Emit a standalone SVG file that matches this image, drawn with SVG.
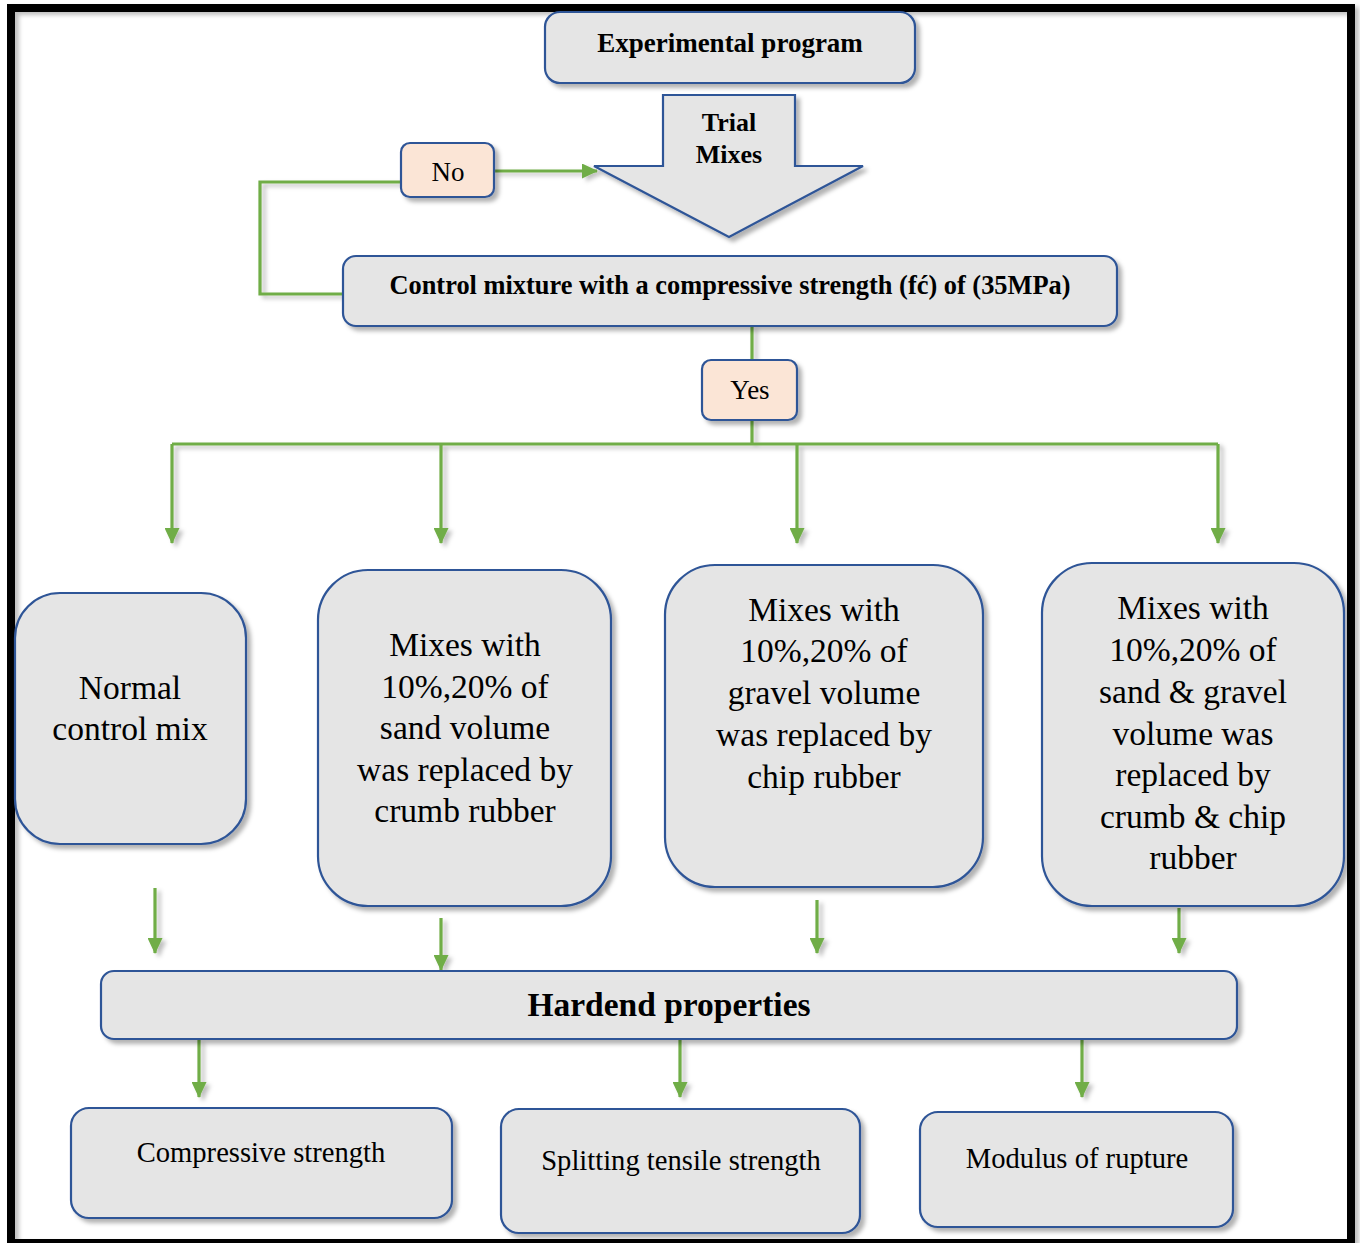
<svg xmlns="http://www.w3.org/2000/svg" width="1360" height="1243" viewBox="0 0 1360 1243">
<style>
.box{fill:#e5e5e5;stroke:#2f5597;stroke-width:2.2;filter:url(#sh)}
.pe{fill:#fbe5d6;stroke:#2f5597;stroke-width:2.2;filter:url(#sh)}
.t{font-family:"Liberation Serif","Times New Roman",serif;fill:#000;text-anchor:middle}
.b{font-weight:bold}
.m{font-size:33.5px}
.s{font-size:28.6px}
.c{fill:none;stroke:#70ad47;stroke-width:3.2}
</style>
<defs>
<filter id="sh" x="-10%" y="-10%" width="130%" height="130%">
<feDropShadow dx="4" dy="4" stdDeviation="2" flood-color="#000" flood-opacity="0.3"/>
</filter>
<filter id="lsh" x="-20%" y="-20%" width="140%" height="140%">
<feDropShadow dx="4" dy="3" stdDeviation="2" flood-color="#000" flood-opacity="0.25"/>
</filter>
<marker id="ah" viewBox="0 0 16 15" refX="15" refY="7.5" markerWidth="16" markerHeight="15" orient="auto" markerUnits="userSpaceOnUse">
<path d="M0,0 L16,7.5 L0,15 z" fill="#70ad47"/>
</marker>
</defs>
<rect width="1360" height="1243" fill="#fff"/>
<rect x="11" y="8" width="1340" height="1235" fill="none" stroke="#000" stroke-width="8" filter="url(#lsh)"/>

<g id="connectors" filter="url(#lsh)">
<path class="c" d="M494,171 H597" marker-end="url(#ah)"/>
<path class="c" d="M343,294 H260 V182 H401"/>
<path class="c" d="M752,326 V360"/>
<path class="c" d="M752,420 V444"/>
<path class="c" d="M172,444 H1218"/>
<path class="c" d="M172,444 V543" marker-end="url(#ah)"/>
<path class="c" d="M441,444 V543" marker-end="url(#ah)"/>
<path class="c" d="M797,444 V543" marker-end="url(#ah)"/>
<path class="c" d="M1218,444 V543" marker-end="url(#ah)"/>
<path class="c" d="M155,888 V953" marker-end="url(#ah)"/>
<path class="c" d="M441,918 V970" marker-end="url(#ah)"/>
<path class="c" d="M817,900 V953" marker-end="url(#ah)"/>
<path class="c" d="M1179,908 V953" marker-end="url(#ah)"/>
<path class="c" d="M199,1040 V1097" marker-end="url(#ah)"/>
<path class="c" d="M680,1040 V1097" marker-end="url(#ah)"/>
<path class="c" d="M1082,1040 V1097" marker-end="url(#ah)"/>
</g>

<g id="experimental">
<rect class="box" x="545" y="12" width="370" height="71" rx="15"/>
<text class="t b" x="730" y="52" font-size="27">Experimental program</text>
</g>
<g id="trial">
<polygon class="box" points="663,95 795,95 795,166 863,166 729,237 594,166 663,166"/>
<text class="t b" x="729" y="131" font-size="26">Trial</text>
<text class="t b" x="729" y="163" font-size="26">Mixes</text>
</g>
<g id="no">
<rect class="pe" x="401" y="143" width="93" height="54" rx="9"/>
<text class="t" x="448" y="181" font-size="27">No</text>
</g>
<g id="control">
<rect class="box" x="343" y="256" width="774" height="70" rx="13"/>
<text class="t b" x="730" y="294" font-size="26.4">Control mixture with a compressive strength (fć) of (35MPa)</text>
</g>
<g id="yes">
<rect class="pe" x="702" y="360" width="95" height="60" rx="9"/>
<text class="t" x="750" y="399" font-size="27">Yes</text>
</g>
<g id="normal">
<rect class="box" x="15" y="593" width="231" height="251" rx="45"/>
<text class="t m" x="130" y="699">Normal</text>
<text class="t m" x="130" y="740">control mix</text>
</g>
<g id="sand">
<rect class="box" x="318" y="570" width="293" height="336" rx="50"/>
<text class="t m" x="465" y="656">Mixes with</text>
<text class="t m" x="465" y="698">10%,20% of</text>
<text class="t m" x="465" y="739">sand volume</text>
<text class="t m" x="465" y="781">was replaced by</text>
<text class="t m" x="465" y="822">crumb rubber</text>
</g>
<g id="gravel">
<rect class="box" x="665" y="565" width="318" height="322" rx="50"/>
<text class="t m" x="824" y="621">Mixes with</text>
<text class="t m" x="824" y="662">10%,20% of</text>
<text class="t m" x="824" y="704">gravel volume</text>
<text class="t m" x="824" y="746">was replaced by</text>
<text class="t m" x="824" y="788">chip rubber</text>
</g>
<g id="sandgravel">
<rect class="box" x="1042" y="563" width="302" height="343" rx="50"/>
<text class="t m" x="1193" y="619">Mixes with</text>
<text class="t m" x="1193" y="661">10%,20% of</text>
<text class="t m" x="1193" y="703">sand &amp; gravel</text>
<text class="t m" x="1193" y="745">volume was</text>
<text class="t m" x="1193" y="786">replaced by</text>
<text class="t m" x="1193" y="828">crumb &amp; chip</text>
<text class="t m" x="1193" y="869">rubber</text>
</g>
<g id="hardend">
<rect class="box" x="101" y="971" width="1136" height="68" rx="13"/>
<text class="t b" x="669" y="1016" font-size="33.5">Hardend properties</text>
</g>
<g id="compressive">
<rect class="box" x="71" y="1108" width="381" height="110" rx="18"/>
<text class="t s" x="261" y="1162">Compressive strength</text>
</g>
<g id="splitting">
<rect class="box" x="501" y="1109" width="359" height="124" rx="18"/>
<text class="t s" x="681" y="1170">Splitting tensile strength</text>
</g>
<g id="modulus">
<rect class="box" x="920" y="1112" width="313" height="115" rx="18"/>
<text class="t s" x="1077" y="1168">Modulus of rupture</text>
</g>
</svg>
